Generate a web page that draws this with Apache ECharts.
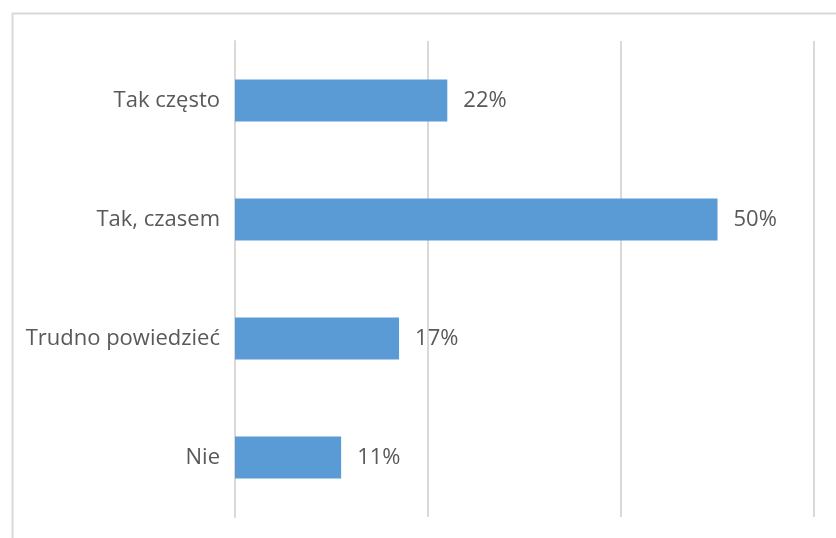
<!DOCTYPE html>
<html><head><meta charset="utf-8">
<script src="https://cdn.jsdelivr.net/npm/echarts@6/dist/echarts.min.js"></script>
<style>html,body{margin:0;padding:0;background:#fff}#c{width:836px;height:538px}</style>
</head><body><div id="c"></div>
<script>
const categories = ["Tak często", "Tak, czasem", "Trudno powiedzieć", "Nie"];
const values = [22, 50, 17, 11];
const xTicks = [0, 20, 40, 60];

const chart = echarts.init(document.getElementById('c'));
chart.setOption({
  animation: false,
  graphic: [{
    type: 'rect', left: 10, top: 11,
    shape: { width: 840, height: 540 },
    style: { fill: 'none', stroke: '#d9d9d9', lineWidth: 2 }
  }],
  grid: { left: 235, right: 22, top: 41, bottom: 21, containLabel: false },
  xAxis: {
    type: 'value', min: xTicks[0], max: xTicks[xTicks.length - 1], interval: 20,
    axisLabel: { show: false },
    axisLine: { show: false }, axisTick: { show: false },
    splitLine: { lineStyle: { color: '#d9d9d9', width: 2 } }
  },
  yAxis: {
    type: 'category', data: categories, inverse: true,
    axisLine: { show: true, lineStyle: { color: '#d9d9d9', width: 2 } },
    axisTick: { show: false },
    axisLabel: { color: '#595959', fontSize: 22, fontFamily: 'Open Sans', margin: 15 }
  },
  series: [{
    type: 'bar', data: values, barWidth: 42,
    itemStyle: { color: '#5b9bd5' },
    label: { show: true, position: 'right', distance: 16, formatter: '{c}%', color: '#595959', fontSize: 22, fontFamily: 'Open Sans' }
  }]
});
</script></body></html>
